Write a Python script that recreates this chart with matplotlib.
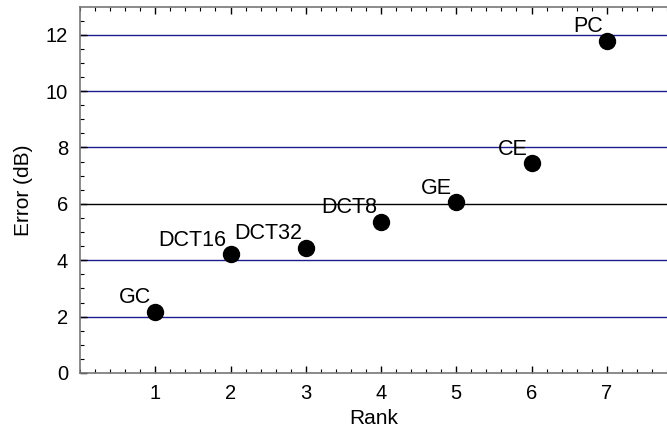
import matplotlib
matplotlib.use("Agg")
import matplotlib.pyplot as plt
from matplotlib.ticker import MultipleLocator

labels = ["GC", "DCT16", "DCT32", "DCT8", "GE", "CE", "PC"]
rank = [1, 2, 3, 4, 5, 6, 7]
error_db = [2.18, 4.22, 4.44, 5.37, 6.06, 7.43, 11.79]
yticks = [0, 2, 4, 6, 8, 10, 12]
xticks = [1, 2, 3, 4, 5, 6, 7]

plt.rcParams['font.family'] = ['Liberation Sans', 'DejaVu Sans']

fig = plt.figure(figsize=(6.67, 4.32), dpi=100)
ax = fig.add_axes([80/667, 59/432, 1 - 80/667, 366/432])

spine_c = '#777777'
for s in ['left', 'bottom', 'top']:
    ax.spines[s].set_color(spine_c)
    ax.spines[s].set_linewidth(1.2)
ax.spines['right'].set_visible(False)

ax.set_xlim(0, 7.8)
ax.set_ylim(0, 12.98)

for y in yticks[1:]:
    col = 'black' if y == 6 else '#1c1c8a'
    ax.axhline(y, color=col, lw=1.0, zorder=1)

ax.plot(rank, error_db, 'o', color='black', markersize=11.5, zorder=3, clip_on=False)
for x, y, t in zip(rank, error_db, labels):
    ax.annotate(t, (x, y), xytext=(-4, 14), textcoords='offset pixels',
                ha='right', va='center', fontsize=15.5, color='black', zorder=4)

ax.set_xticks(xticks)
ax.set_yticks(yticks)
ax.xaxis.set_minor_locator(MultipleLocator(0.2))
ax.yaxis.set_minor_locator(MultipleLocator(0.5))
ax.tick_params(axis='both', which='both', direction='in', color='black')
ax.tick_params(axis='x', which='both', top=True, bottom=True)
ax.tick_params(axis='y', which='both', left=True, right=False)
ax.tick_params(which='major', length=5, width=1, labelsize=14.5)
ax.tick_params(which='minor', length=3, width=0.8)
ax.tick_params(axis='x', which='major', pad=8)
ax.tick_params(axis='y', which='major', pad=8.5)

ax.set_xlabel('Rank', fontsize=15, labelpad=4)
ax.set_ylabel('Error (dB)', fontsize=15, labelpad=9)

fig.savefig('out.png', dpi=100)
